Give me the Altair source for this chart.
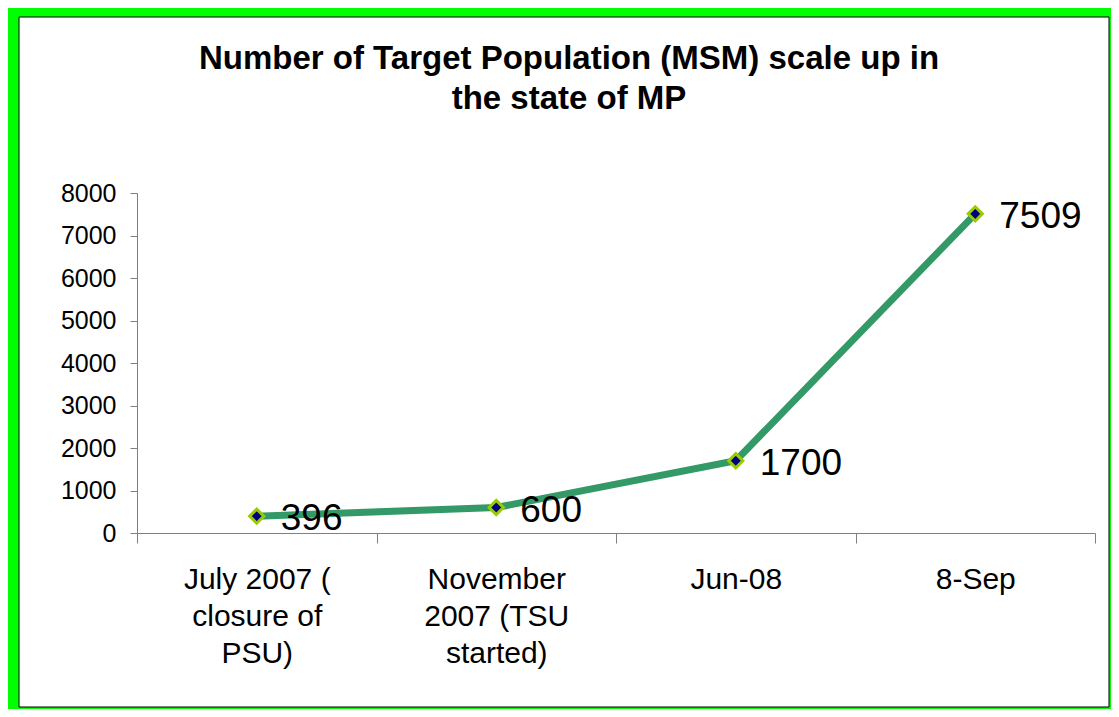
import altair as alt
import pandas as pd

categories = ["July 2007 (\nclosure of\nPSU)", "November\n2007 (TSU\nstarted)", "Jun-08", "8-Sep"]
values = [396, 600, 1700, 7509]
y_ticks = [0, 1000, 2000, 3000, 4000, 5000, 6000, 7000, 8000]
title_lines = ["Number of Target Population (MSM) scale up in", "the state of MP"]

df = pd.DataFrame({"period": categories, "msm": values})

FONT = "Liberation Sans"
AXIS_GRAY = "#808080"

x_enc = alt.X(
    "period:N",
    sort=categories,
    bandPosition=0.5,
    scale=alt.Scale(type="band", paddingInner=0, paddingOuter=0),
    axis=alt.Axis(
        title=None,
        labelExpr="split(datum.label, '\\n')",
        labelAngle=0,
        tickBand="extent",
        tickSize=10,
        labelFontSize=30,
        labelFont=FONT,
        labelColor="black",
        labelLineHeight=37,
        labelPadding=21,
        domainColor=AXIS_GRAY,
        tickColor=AXIS_GRAY,
        zindex=1,
    ),
)
y_enc = alt.Y(
    "msm:Q",
    scale=alt.Scale(domain=[0, 8000], nice=False),
    axis=alt.Axis(
        title=None,
        values=y_ticks,
        format="d",
        grid=False,
        tickSize=7,
        labelFontSize=25,
        labelFont=FONT,
        labelColor="black",
        labelPadding=14,
        domainColor=AXIS_GRAY,
        tickColor=AXIS_GRAY,
        zindex=1,
    ),
)

frame = alt.Chart(alt.Data(values=[{}])).mark_rect(
    fill="white", stroke="black", strokeWidth=1
).encode(
    x=alt.value(-118), x2=alt.value(972), y=alt.value(-176), y2=alt.value(514)
)

base = alt.Chart(df).encode(x=x_enc, y=y_enc)

line = base.mark_line(color="#339966", strokeWidth=7)
points = base.mark_point(
    shape="diamond", filled=True, fill="#000080", stroke="#99CC00",
    strokeWidth=3, size=200, opacity=1
)
labels = base.mark_text(
    align="left", baseline="middle", dx=24, dy=3, fontSize=37, font=FONT, color="black"
).encode(text="msm:Q")

chart = alt.layer(frame, line, points, labels).properties(
    width=958,
    height=340,
    autosize=alt.AutoSizeParams(type="none"),
    padding={"left": 129, "top": 185, "right": 16, "bottom": 176},
    background="#00FF00",
    title=alt.Title(
        title_lines,
        fontSize=33,
        font=FONT,
        fontWeight="bold",
        color="black",
        anchor="middle",
        baseline="bottom",
        dx=-47,
        offset=-132,
        lineHeight=40,
    ),
).configure_view(stroke=None)

chart.save("out.html", embed_options={"renderer": "svg", "actions": False})
